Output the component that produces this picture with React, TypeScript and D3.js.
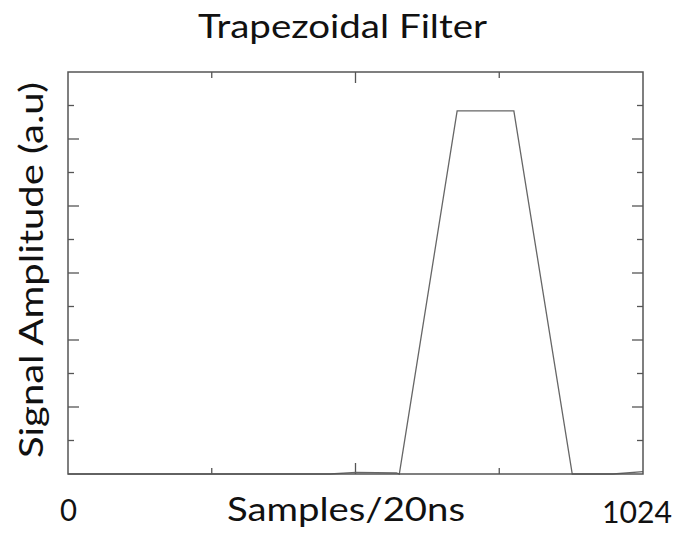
import React from "react";
import * as d3 from "d3";

const sampleX = [0, 467, 513, 585, 590, 693, 794, 898, 971, 1024];
const amplitude = [0, 0, 0.05, 0.03, 0, 10.84, 10.84, 0, 0, 0.07];
const xTicks = [256, 512, 768];
const xMajorTicks = [512];
const yTicks = [1, 2, 3, 4, 5, 6, 7, 8, 9, 10, 11];
const xEndLabels = ["0", "1024"];
const title = "Trapezoidal Filter";
const xTitle = "Samples/20ns";
const yTitle = "Signal Amplitude (a.u)";

const W = 681;
const H = 540;
const M = { left: 68, right: 643, top: 72, bottom: 474 };
const FONT = "Lato, 'Open Sans', sans-serif";

export default function App() {
  const x = d3.scaleLinear().domain([0, 1024]).range([M.left, M.right]);
  const y = d3.scaleLinear().domain([0, 12]).range([M.bottom, M.top]);
  const pts: [number, number][] = sampleX.map((s, i) => [s, amplitude[i]]);
  const line = d3
    .line<[number, number]>()
    .x((d) => x(d[0]))
    .y((d) => y(d[1]));

  const tickColor = "#555";
  return (
    <svg
      width={W}
      height={H}
      style={{ position: "absolute", left: 0, top: 0, background: "#fff" }}
      fontFamily={FONT}
    >
      <rect x={0} y={0} width={W} height={H} fill="#fff" />
      {yTicks.map((t) => {
        const len = t % 2 === 0 ? 11 : 6;
        return (
          <g key={"y" + t} stroke={tickColor} strokeWidth={1.3}>
            <line x1={M.left} x2={M.left + len} y1={y(t)} y2={y(t)} />
            <line x1={M.right} x2={M.right - len} y1={y(t)} y2={y(t)} />
          </g>
        );
      })}
      {xTicks.map((t) => {
        const len = xMajorTicks.includes(t) ? 11 : 6;
        return (
          <g key={"x" + t} stroke={tickColor} strokeWidth={1.3}>
            <line x1={x(t)} x2={x(t)} y1={M.bottom} y2={M.bottom - len} />
            <line x1={x(t)} x2={x(t)} y1={M.top} y2={M.top + len} />
          </g>
        );
      })}
      <path d={line(pts) || ""} fill="none" stroke="#666" strokeWidth={1.3} />
      <rect
        x={M.left}
        y={M.top}
        width={M.right - M.left}
        height={M.bottom - M.top}
        fill="none"
        stroke="#555"
        strokeWidth={1.5}
      />
      <text
        x={198}
        y={38}
        fontSize={32}
        fill="#111"
        textLength={289}
        lengthAdjust="spacingAndGlyphs"
      >
        {title}
      </text>
      <text
        x={60}
        y={521}
        fontSize={31}
        fill="#111"
        textLength={17}
        lengthAdjust="spacingAndGlyphs"
      >
        {xEndLabels[0]}
      </text>
      <text
        x={602}
        y={523}
        fontSize={31}
        fill="#111"
        textLength={70}
        lengthAdjust="spacingAndGlyphs"
      >
        {xEndLabels[1]}
      </text>
      <text
        x={227}
        y={521}
        fontSize={32}
        fill="#111"
        textLength={238}
        lengthAdjust="spacingAndGlyphs"
      >
        {xTitle}
      </text>
      <text
        transform={`translate(43,458) rotate(-90)`}
        fontSize={32}
        fill="#111"
        textLength={376}
        lengthAdjust="spacingAndGlyphs"
      >
        {yTitle}
      </text>
    </svg>
  );
}
